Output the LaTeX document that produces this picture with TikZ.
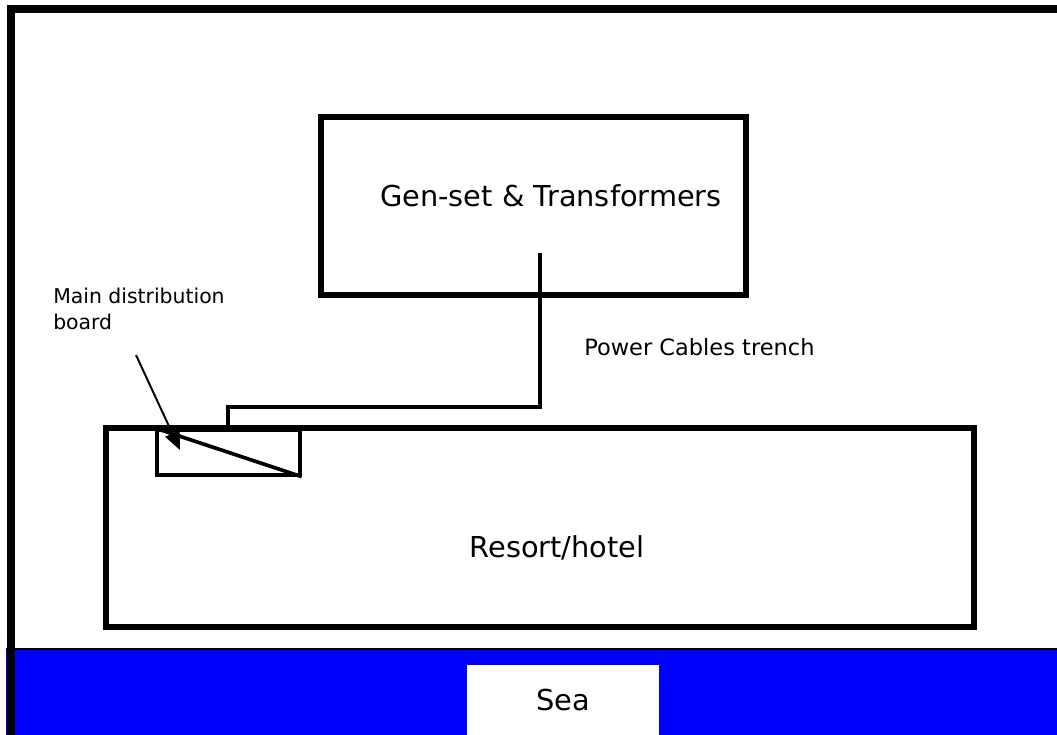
\documentclass[tikz,border=0pt]{standalone}
\usepackage{fontspec}
\setmainfont{DejaVu Sans}
\usetikzlibrary{arrows.meta,positioning}

\begin{document}
\begin{tikzpicture}[x=0.025cm, y=-0.025cm,
  block/.style={draw, line width=3.6pt, inner sep=0pt},
  board/.style={draw, line width=2.6pt, inner sep=0pt},
  big/.style={font=\fontsize{20.5}{24}\selectfont},
  lab/.style={font=\fontsize{16}{18}\selectfont, inner sep=0pt},
  cable/.style={line width=2.8pt},
  pointer/.style={-{Triangle[length=13pt,width=11pt]}, line width=1.4pt}]
  \useasboundingbox (0,0) rectangle (1057,735);
  % sea
  \fill[blue] (6,649) rectangle (1057,735);
  \draw[line width=0.8pt] (6,649) -- (1057,649);
  \node[fill=white, minimum width=192*0.025cm, minimum height=70*0.025cm, big] (sea) at (563,700) {Sea};
  % site boundary
  \draw[line width=5.7pt] (11,740) -- (11,9) -- (1070,9);
  % buildings
  \node[block, minimum width=425*0.025cm, minimum height=178*0.025cm] (gen) at (533.5,206) {};
  \node[big] (gentxt) at (551,196) {Gen-set \& Transformers};
  \node[block, minimum width=868*0.025cm, minimum height=199*0.025cm] (resort) at (540,527.5) {};
  \node[big] (resorttxt) at (557,548) {Resort/hotel};
  \node[board, minimum width=143*0.025cm, minimum height=45*0.025cm, anchor=north west] (mdb) at (155,428) {};
  \draw[line width=2.6pt] (mdb.north west) -- (mdb.south east);
  % cable trench
  \coordinate (feed) at (540,253);
  \draw[cable] (feed) |- (228,407) -- (228,428);
  \node[lab, anchor=west] (trench) at (584,347) {Power Cables trench};
  % labels
  \node[lab, anchor=north west, align=left, font=\fontsize{14.5}{18}\selectfont] (mdbtxt) at (53,288) {Main distribution\\board};
  \coordinate (ptr) at (136,355);
  \draw[pointer] (ptr) -- (180,450);
\end{tikzpicture}
\end{document}
